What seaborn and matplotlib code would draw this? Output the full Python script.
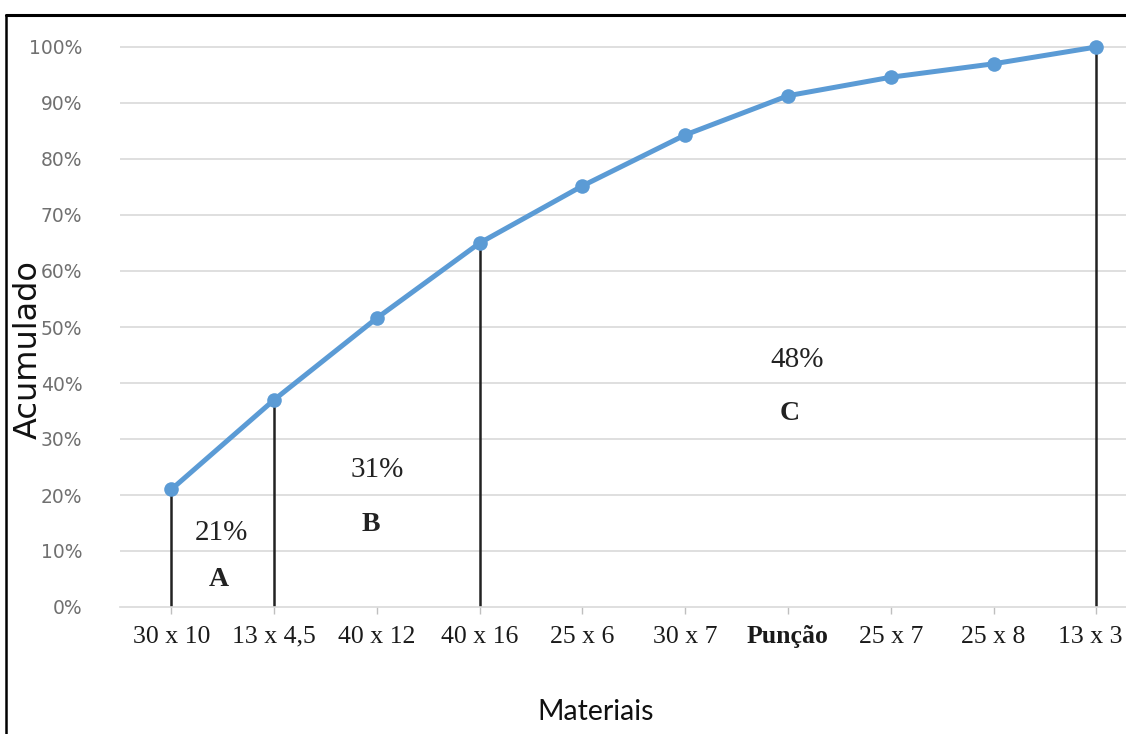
import numpy as np
import pandas as pd
import seaborn as sns
import matplotlib.pyplot as plt
from matplotlib.lines import Line2D
from matplotlib.ticker import PercentFormatter

# data
materiais = ["30 x 10", "13 x 4,5", "40 x 12", "40 x 16", "25 x 6",
             "30 x 7", "Punção", "25 x 7", "25 x 8", "13 x 3"]
acumulado = [0.21, 0.37, 0.516, 0.65, 0.752, 0.843, 0.913, 0.946, 0.97, 1.0]

# class boundaries (drop lines) at these materials
limites = ["30 x 10", "13 x 4,5", "40 x 16", "13 x 3"]

# class labels: share and letter
classes = ["A", "B", "C"]
shares = ["21%", "31%", "48%"]
share_pos = [(0.49, 0.132), (2.0, 0.245), (6.09, 0.441)]
letter_pos = [(0.46, 0.05), (1.94, 0.148), (6.02, 0.346)]

df = pd.DataFrame({"Materiais": materiais, "Acumulado": acumulado})

sns.set_style("white")
plt.rcParams["font.family"] = ["DejaVu Sans"]

fig = plt.figure(figsize=(11.26, 7.34), dpi=100)
ax = fig.add_axes([120 / 1126, 1 - 607 / 734, 1006 / 1126, 567 / 734])

# gridlines first so they stay behind
for v in np.arange(0.1, 1.01, 0.1):
    ax.axhline(v, color="#d9d9d9", lw=1.2, zorder=0)

# vertical drop lines at the class boundaries
idx = [materiais.index(m) for m in limites]
ax.vlines(idx, 0, [acumulado[i] for i in idx], color="#222222", lw=1.8, zorder=2)

sns.lineplot(data=df, x="Materiais", y="Acumulado", ax=ax, color="#5b9bd5",
             lw=3.6, marker="o", markersize=10.5, markeredgewidth=0,
             sort=False, zorder=3, clip_on=False)

ax.set_xlim(-0.5, (1126 - 172) / 102.7)
ax.set_ylim(0, 1.0125)
ax.set_yticks(np.arange(0, 1.01, 0.1))
ax.yaxis.set_major_formatter(PercentFormatter(1.0, decimals=0))
ax.set_xticks(range(len(materiais)))
ax.set_xticklabels([])
ax.tick_params(axis="x", length=5, color="#bfbfbf", width=1, bottom=True)
ax.tick_params(axis="y", length=0, pad=27, labelsize=13.5, labelcolor="#707070")

# category labels drawn by hand so the last one can sit a bit left (as in the source)
for i, m in enumerate(materiais):
    dx = -4.5 if i == len(materiais) - 1 else 0
    ax.annotate(m, xy=(i, 0), xycoords=("data", "axes fraction"),
                xytext=(dx, -21.5), textcoords="offset points",
                ha="center", va="center", family="Liberation Serif", fontsize=18.5,
                fontweight="bold" if m == "Punção" else "normal", color="#1a1a1a",
                annotation_clip=False)

for s in ["top", "right", "left"]:
    ax.spines[s].set_visible(False)
ax.spines["bottom"].set_color("#d9d9d9")
ax.spines["bottom"].set_linewidth(1.2)

ax.set_xlabel("")
ax.set_ylabel("")
fig.text(28 / 1126, 1 - 350 / 734, "Acumulado", rotation=90, ha="center", va="center",
         fontsize=23, color="#111111")
fig.text(596 / 1126, 1 - 712 / 734, "Materiais", ha="center", va="center",
         fontsize=20.5, family="Lato", color="#111111")

for lab, pos in zip(shares, share_pos):
    ax.text(pos[0], pos[1], lab, ha="center", va="center",
            family="Liberation Serif", fontsize=21, color="#222222")
for lab, pos in zip(classes, letter_pos):
    ax.text(pos[0], pos[1], lab, ha="center", va="center",
            family="Liberation Serif", fontsize=20, fontweight="bold", color="#222222")

# black frame cut by the image edges (left and top only)
fig.add_artist(Line2D([6 / 1126, 6 / 1126], [0, 1 - 15 / 734], color="black", lw=1.8))
fig.add_artist(Line2D([6 / 1126, 1], [1 - 15 / 734, 1 - 15 / 734], color="black", lw=2.2))

fig.savefig("out.png", dpi=100)
